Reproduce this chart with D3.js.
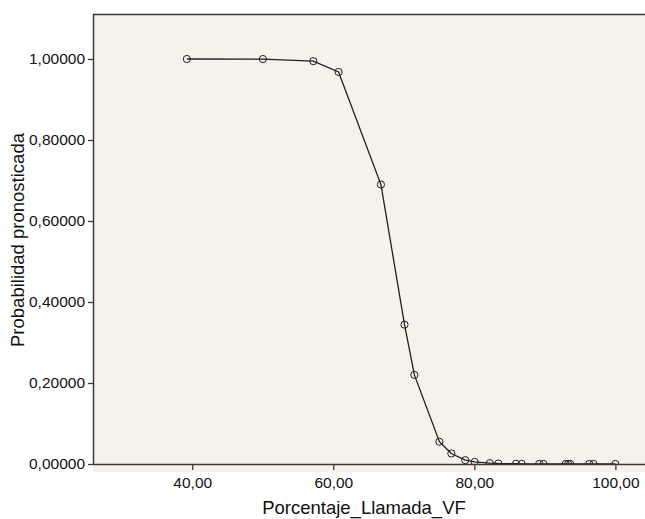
<!DOCTYPE html>
<html>
<head>
<meta charset="utf-8">
<script src="https://cdn.jsdelivr.net/npm/d3@7"></script>
<style>
  html, body { margin: 0; padding: 0; background: #ffffff; }
  svg { display: block; }
  text { font-family: "Liberation Sans", Arial, Helvetica, sans-serif; fill: #111; }
</style>
</head>
<body>
<svg id="chart" width="645" height="519"></svg>
<script>
const xValues = [39.24, 50.02, 57.17, 60.75, 66.76, 70.10, 71.50, 75.05, 76.74, 78.72, 80.05,
                 82.20, 83.40, 85.90, 86.70, 89.20, 89.80, 92.95, 93.30, 93.60, 96.30, 96.90, 100.00];
const yValues = [0.99995, 0.9999, 0.9946, 0.9680, 0.6900, 0.3440, 0.2200, 0.0550, 0.0260, 0.0095, 0.0050,
                 0.0020, 0.0012, 0.0006, 0.0004, 0.0002, 0.0002, 0.0001, 0.0001, 0.0001, 0.00005, 0.00004, 0.00002];
const xTicks = [40, 60, 80, 100];
const yTicks = [0, 0.2, 0.4, 0.6, 0.8, 1.0];
const xTitle = "Porcentaje_Llamada_VF";
const yTitle = "Probabilidad pronosticada";

const svg = d3.select("#chart");
const mLeft = 93, mRight = 645, mTop = 14, axisY = 464, bgBottom = 472;

const x = d3.scaleLinear().domain([25.93, 104.2]).range([mLeft, mRight]);
const y = d3.scaleLinear().domain([0, 1.1111]).range([axisY, mTop]);

const fmtX = v => d3.format(".2f")(v).replace(".", ",");
const fmtY = v => d3.format(".5f")(v).replace(".", ",");

// background
svg.append("rect")
  .attr("x", mLeft).attr("y", mTop)
  .attr("width", mRight - mLeft).attr("height", bgBottom - mTop)
  .attr("fill", "#f5f2eb");

// clip for data
svg.append("clipPath").attr("id", "clip")
  .append("rect").attr("x", mLeft).attr("y", mTop)
  .attr("width", mRight - mLeft).attr("height", axisY - mTop + 0.5);

const pts = xValues.map((v, i) => [v, yValues[i]]);

const g = svg.append("g").attr("clip-path", "url(#clip)");
g.append("path")
  .datum(pts)
  .attr("fill", "none")
  .attr("stroke", "#1e1e1e")
  .attr("stroke-width", 1.3)
  .attr("d", d3.line().x(d => x(d[0])).y(d => y(d[1])));

g.selectAll("circle").data(pts).enter().append("circle")
  .attr("cx", d => x(d[0])).attr("cy", d => y(d[1]))
  .attr("r", 3.6)
  .attr("fill", "none")
  .attr("stroke", "#1e1e1e")
  .attr("stroke-width", 1);

// axes
const xAxis = d3.axisBottom(x).tickValues(xTicks).tickFormat(fmtX).tickSize(6).tickSizeOuter(0);
const gx = svg.append("g").attr("transform", `translate(0,${axisY})`).call(xAxis);
gx.select(".domain").remove();
gx.append("line").attr("x1", mLeft).attr("x2", mRight).attr("y1", 0.5).attr("y2", 0.5)
  .attr("stroke", "#3a3a3a").attr("stroke-width", 1.5);
gx.selectAll(".tick line").attr("stroke", "#3a3a3a").attr("stroke-width", 1.3);
gx.selectAll(".tick text").attr("font-size", 15.5).attr("dy", 0).attr("y", 24)
  .style("font-family", "'Liberation Sans', Arial, sans-serif").attr("fill", "#111");

const yAxis = d3.axisLeft(y).tickValues(yTicks).tickFormat(fmtY).tickSize(5).tickSizeOuter(0).tickPadding(3);
const gy = svg.append("g").attr("transform", `translate(${mLeft},0)`).call(yAxis);
gy.select(".domain").remove();
gy.append("line").attr("x1", 0.5).attr("x2", 0.5).attr("y1", mTop).attr("y2", axisY + 1)
  .attr("stroke", "#3a3a3a").attr("stroke-width", 1.5);
gy.selectAll(".tick line").attr("stroke", "#3a3a3a").attr("stroke-width", 1.3);
gy.selectAll(".tick text").attr("font-size", 15.5)
  .style("font-family", "'Liberation Sans', Arial, sans-serif").attr("fill", "#111");

// top border
svg.append("line").attr("x1", mLeft).attr("x2", mRight).attr("y1", mTop + 0.5).attr("y2", mTop + 0.5)
  .attr("stroke", "#3a3a3a").attr("stroke-width", 1.5);

// titles
svg.append("text").attr("x", 364).attr("y", 514).attr("text-anchor", "middle")
  .attr("font-size", 18.5).text(xTitle);
svg.append("text").attr("transform", "translate(24,240) rotate(-90)").attr("text-anchor", "middle")
  .attr("font-size", 18.5).text(yTitle);
</script>
</body>
</html>
